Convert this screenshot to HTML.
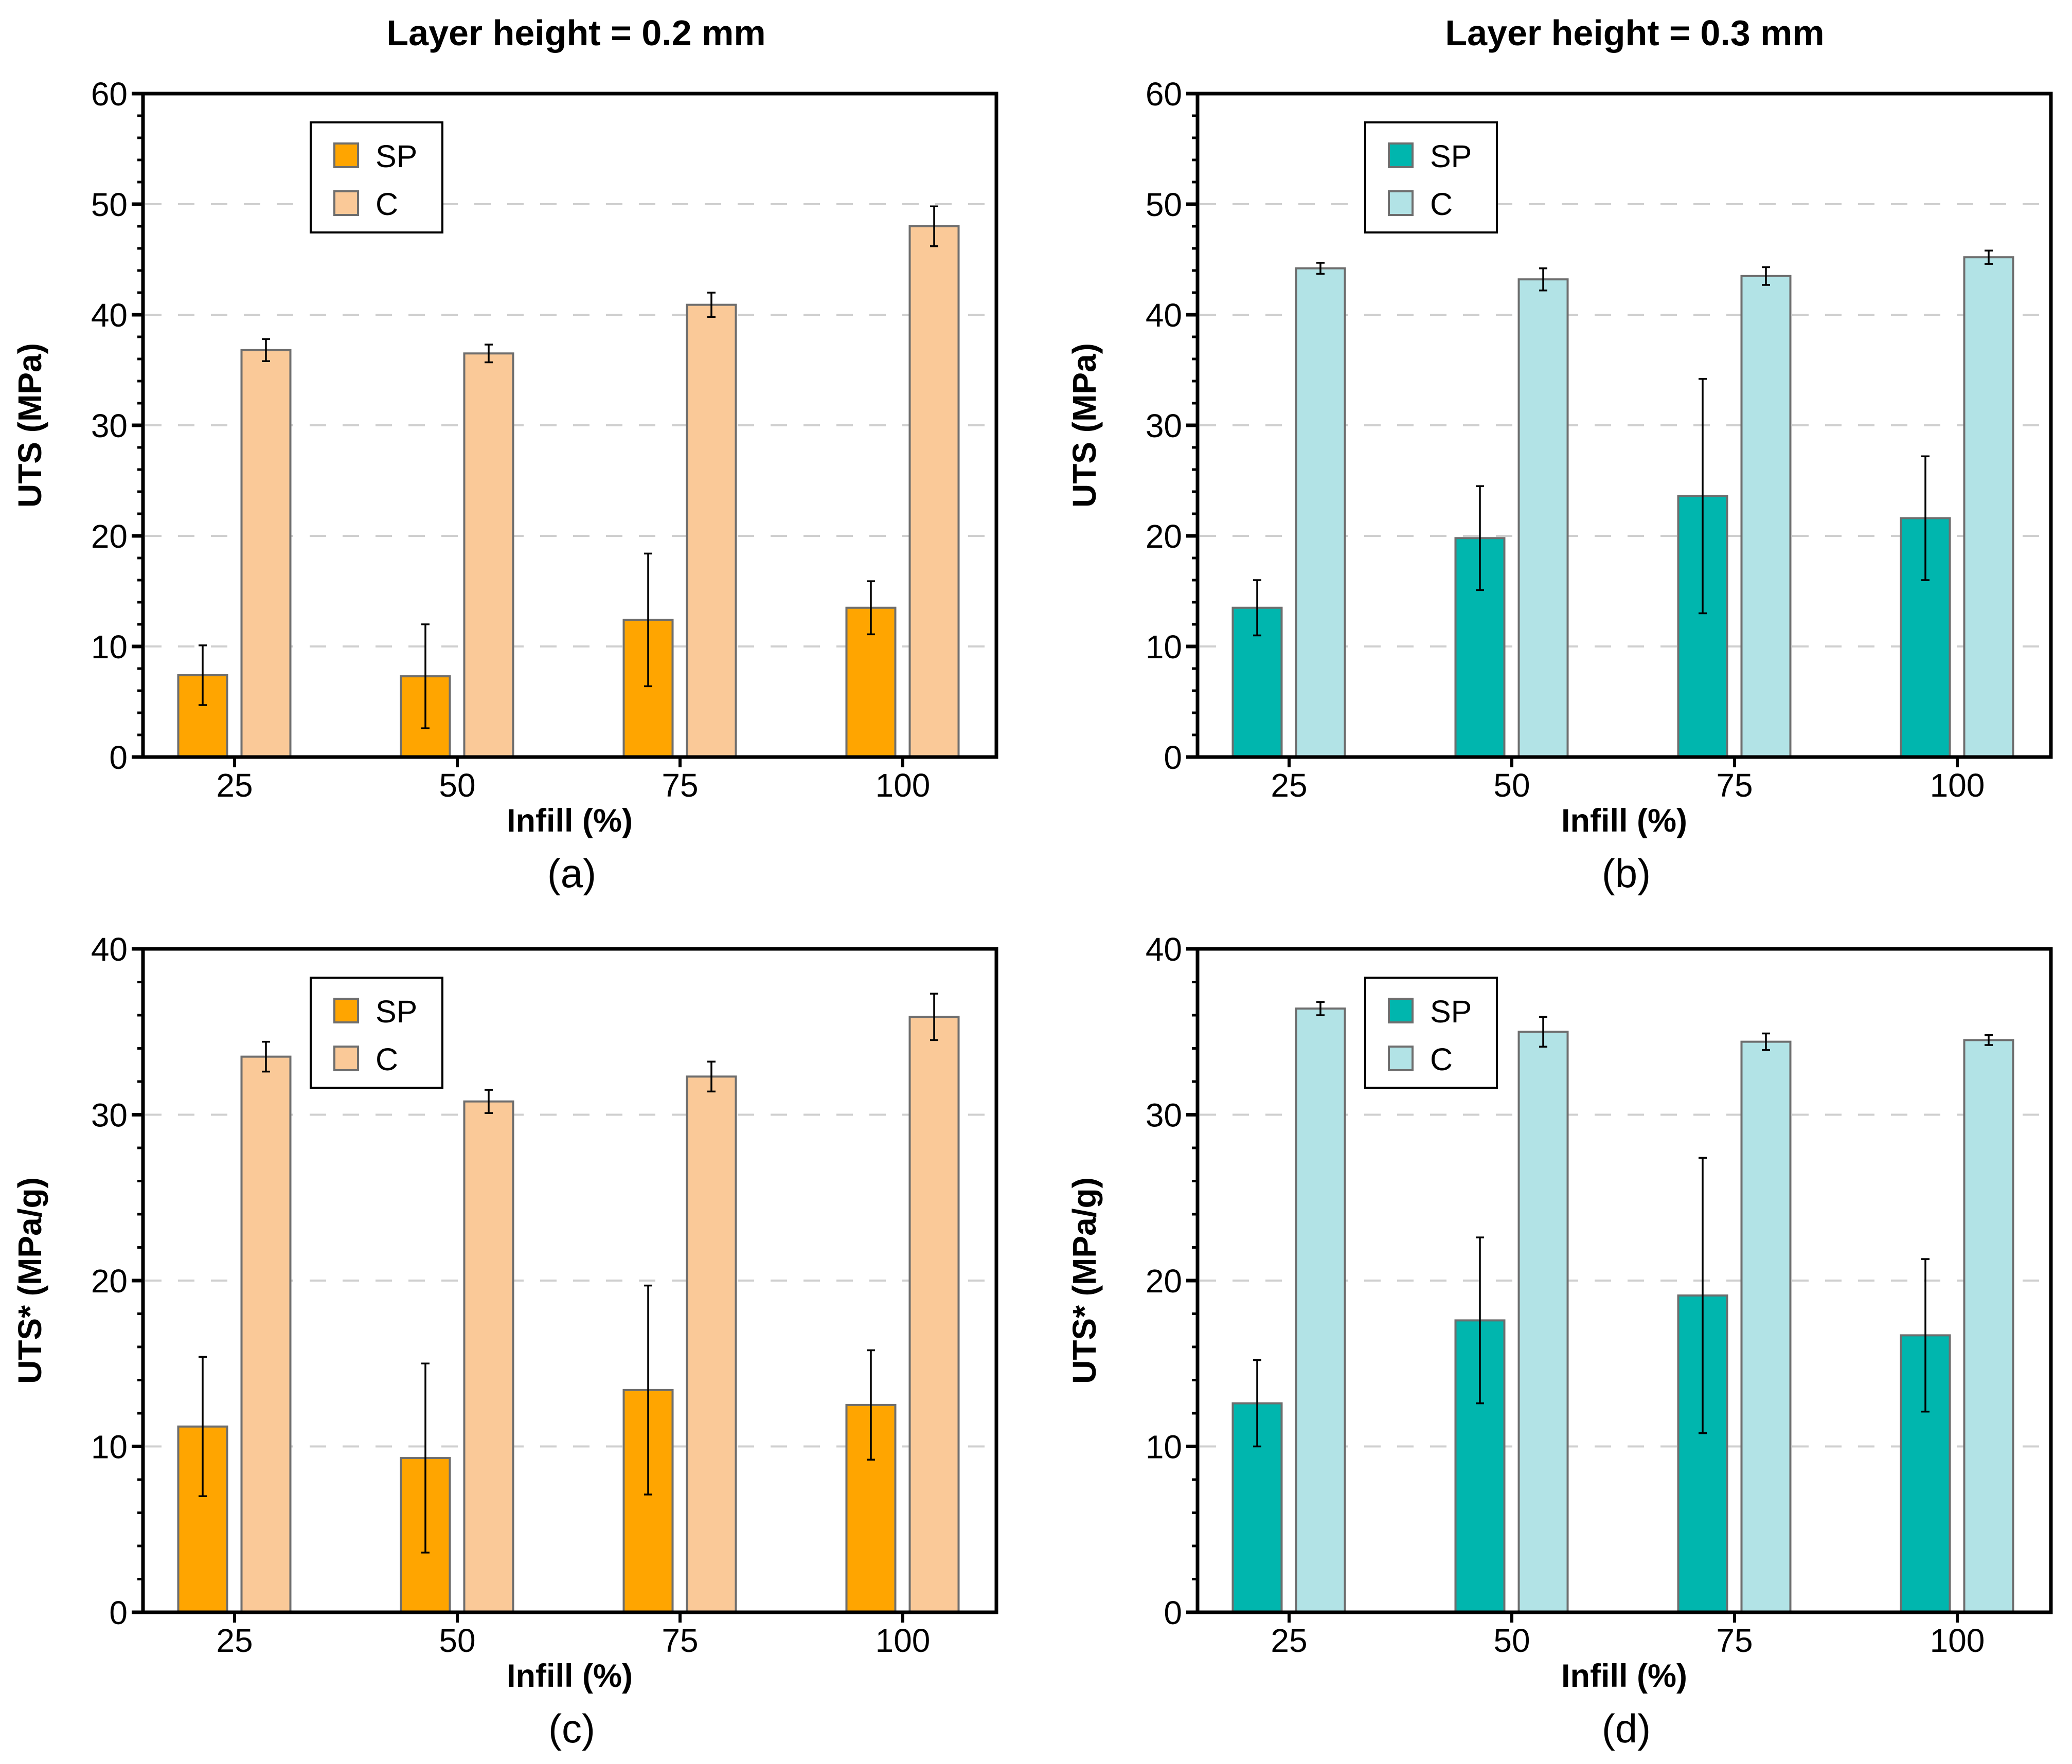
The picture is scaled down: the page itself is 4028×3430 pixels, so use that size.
<!DOCTYPE html>
<html><head><meta charset="utf-8">
<style>
html,body{margin:0;padding:0;background:#fff;}
svg{display:block;font-family:"Liberation Sans",Arial,sans-serif;}
</style></head>
<body>
<svg id="fig" width="4028" height="3430" viewBox="0 0 4028 3430" xmlns="http://www.w3.org/2000/svg">
<text x="1120" y="88" font-size="70" font-weight="bold" text-anchor="middle">Layer height = 0.2 mm</text>
<text x="3178" y="88" font-size="70" font-weight="bold" text-anchor="middle">Layer height = 0.3 mm</text>
</svg>
<script>
const categories = ["25","50","75","100"];
const aSP = [7.4, 7.3, 12.4, 13.5];
const aSPerr = [2.7, 4.7, 6.0, 2.4];
const aC = [36.8, 36.5, 40.9, 48.0];
const aCerr = [1.0, 0.8, 1.1, 1.8];
const bSP = [13.5, 19.8, 23.6, 21.6];
const bSPerr = [2.5, 4.7, 10.6, 5.6];
const bC = [44.2, 43.2, 43.5, 45.2];
const bCerr = [0.5, 1.0, 0.8, 0.6];
const cSP = [11.2, 9.3, 13.4, 12.5];
const cSPerr = [4.2, 5.7, 6.3, 3.3];
const cC = [33.5, 30.8, 32.3, 35.9];
const cCerr = [0.9, 0.7, 0.9, 1.4];
const dSP = [12.6, 17.6, 19.1, 16.7];
const dSPerr = [2.6, 5.0, 8.3, 4.6];
const dC = [36.4, 35.0, 34.4, 34.5];
const dCerr = [0.4, 0.9, 0.5, 0.3];
const ticksTop = [0,10,20,30,40,50,60];
const ticksBottom = [0,10,20,30,40];
const legendLabels = ["SP","C"];

const NS = "http://www.w3.org/2000/svg";
const svg = document.getElementById("fig");
function mk(tag, attrs, parent){
  const e = document.createElementNS(NS, tag);
  for (const k in attrs) e.setAttribute(k, attrs[k]);
  (parent||svg).appendChild(e);
  return e;
}

const panels = [
  {id:"a", L:278, T:182, sp:aSP, spe:aSPerr, c:aC, ce:aCerr, ticks:ticksTop, ytitle:"UTS (MPa)", c1:"#FFA500", c2:"#FAC998"},
  {id:"b", L:2328, T:182, sp:bSP, spe:bSPerr, c:bC, ce:bCerr, ticks:ticksTop, ytitle:"UTS (MPa)", c1:"#00B6AE", c2:"#B2E3E6"},
  {id:"c", L:278, T:1845, sp:cSP, spe:cSPerr, c:cC, ce:cCerr, ticks:ticksBottom, ytitle:"UTS* (MPa/g)", c1:"#FFA500", c2:"#FAC998"},
  {id:"d", L:2328, T:1845, sp:dSP, spe:dSPerr, c:dC, ce:dCerr, ticks:ticksBottom, ytitle:"UTS* (MPa/g)", c1:"#00B6AE", c2:"#B2E3E6"}
];
const W = 1659, H = 1290, pad = 178, step = 433, bw = 95;

panels.forEach(p => {
  const g = mk("g", {});
  
  
  const ymax = p.ticks[p.ticks.length-1];
  const y = v => p.T + H - v / ymax * H;
  const x = i => p.L + pad + i * step;
  const B = p.T + H;
  p.ticks.forEach(t => {
    if (t === 0 || t === ymax) return;
    const gl = mk("line", {x1:p.L+4, x2:p.L+W, y1:y(t), y2:y(t), stroke:"#cfcfcf", "stroke-width":4, "stroke-dasharray":"32,32"}, g);
    
    
  });
  for (let i = 0; i < categories.length; i++) {
    [[p.sp, p.spe, p.c1, -62, "sp"], [p.c, p.ce, p.c2, 61, "c"]].forEach(s => {
      const v = s[0][i], e = s[1][i], cx = x(i) + s[3];
      const r = mk("rect", {x:cx-bw/2, y:y(v), width:bw, height:B-y(v), fill:s[2], stroke:"#6e6e6e", "stroke-width":4}, g);
      
      
      const eb = mk("path", {d:`M${cx},${y(v+e)}V${y(v-e)}M${cx-8},${y(v+e)}H${cx+8}M${cx-8},${y(v-e)}H${cx+8}`, stroke:"#000", "stroke-width":3.5, fill:"none"}, g);
      
      
    });
  }
  const fr = mk("rect", {x:p.L, y:p.T, width:W, height:H, fill:"none", stroke:"#000", "stroke-width":7}, g);
  
  
  for (let v = 0; v <= ymax; v += 2) {
    const major = v % 10 === 0;
    const tk = mk("line", {x1:p.L - (major?22:11), x2:p.L, y1:y(v), y2:y(v), stroke:"#000", "stroke-width":major?7:5}, g);
    
    
  }
  p.ticks.forEach(t => {
    const tl = mk("text", {x:p.L-30, y:y(t)+23, "font-size":64, "text-anchor":"end"}, g);
    tl.textContent = t;
    
    
  });
  categories.forEach((c, i) => {
    const tk = mk("line", {x1:x(i), x2:x(i), y1:B, y2:B+20, stroke:"#000", "stroke-width":6}, g);
    
    
    const tl = mk("text", {x:x(i), y:B+77, "font-size":64, "text-anchor":"middle"}, g);
    tl.textContent = c;
    
    
  });
  const xt = mk("text", {x:p.L+W/2, y:B+145, "font-size":63, "font-weight":"bold", "text-anchor":"middle"}, g);
  xt.textContent = "Infill (%)";
  
  
  const yt = mk("text", {x:0, y:0, "font-size":64, "font-weight":"bold", "text-anchor":"middle", transform:`translate(${p.L-198},${p.T+H/2}) rotate(-90)`}, g);
  yt.textContent = p.ytitle;
  
  
  const pl = mk("text", {x:p.L+W/2+4, y:B+253, "font-size":78, "text-anchor":"middle"}, g);
  pl.textContent = "(" + p.id + ")";
  
  
  const lg = mk("g", {}, g);
  
  
  const lx = p.L + 326, ly = p.T + 56;
  mk("rect", {x:lx, y:ly, width:256, height:214, fill:"#fff", stroke:"#000", "stroke-width":4}, lg);
  [p.c1, p.c2].forEach((col, k) => {
    const sw = mk("rect", {x:lx+46, y:ly+41+k*93, width:46, height:46, fill:col, stroke:"#6e6e6e", "stroke-width":4}, lg);
    
    
    const lt = mk("text", {x:lx+126, y:ly+87+k*93, "font-size":61}, lg);
    lt.textContent = legendLabels[k];
    
    
  });
});
</script>
</body></html>
